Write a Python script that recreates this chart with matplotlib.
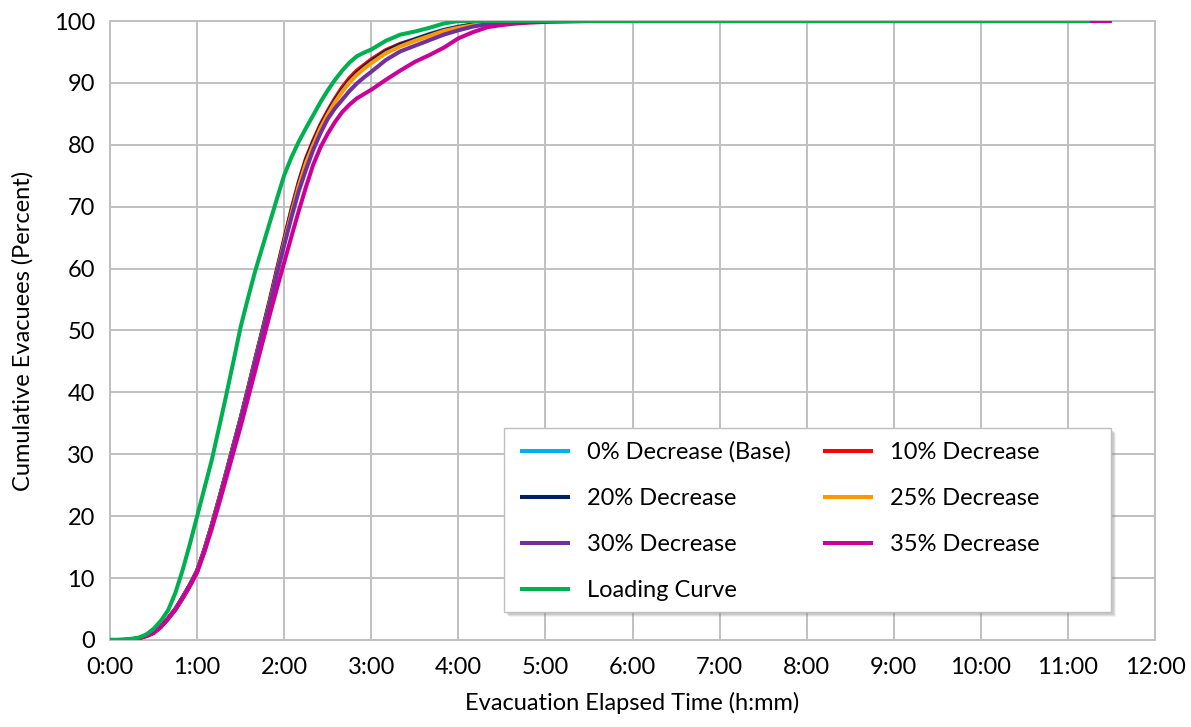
import matplotlib
matplotlib.use("Agg")
import matplotlib.pyplot as plt
from matplotlib.patches import Rectangle
from matplotlib.transforms import offset_copy

# Elapsed time in minutes: 5-minute steps to 3:00, then 10-minute steps to 5:30
minutes = [0, 5, 10, 15, 20, 25, 30, 35, 40, 45, 50, 55, 60, 65, 70, 75, 80, 85,
           90, 95, 100, 105, 110, 115, 120, 125, 130, 135, 140, 145, 150, 155,
           160, 165, 170, 175, 180,
           190, 200, 210, 220, 230, 240, 250, 260, 270, 280, 290, 300, 310, 320, 330]
end_scenarios = 690   # 11:30
end_loading = 675     # 11:15

# Cumulative evacuees (percent) for each scenario
base_0 = [0, 0, 0, 0.1, 0.3, 0.7, 1.2, 2.2, 3.5, 5.0, 6.9, 8.9, 11.2, 14.6, 18.5,
          22.7, 27.0, 31.4, 35.8, 40.5, 45.3, 50.0, 54.7, 59.7, 64.6, 69.4, 73.8,
          77.6, 80.5, 83.1, 85.3, 87.3, 89.0, 90.5, 91.7, 92.7, 93.6,
          95.2, 96.3, 97.1, 97.9, 98.6, 99.1, 99.5, 99.75, 99.9, 99.95, 100, 100,
          100, 100, 100]
dec_10 = [0, 0, 0, 0.1, 0.3, 0.7, 1.2, 2.2, 3.5, 5.0, 6.9, 8.9, 11.2, 14.6, 18.5,
          22.7, 27.0, 31.5, 35.9, 40.6, 45.4, 50.1, 54.9, 59.9, 64.8, 69.6, 74.0,
          77.8, 80.7, 83.3, 85.5, 87.5, 89.3, 90.8, 92.0, 92.9, 93.8,
          95.3, 96.3, 97.0, 97.8, 98.5, 99.0, 99.4, 99.7, 99.9, 99.95, 100, 100,
          100, 100, 100]
dec_20 = [0, 0, 0, 0.1, 0.3, 0.7, 1.2, 2.2, 3.5, 5.0, 6.9, 8.9, 11.2, 14.6, 18.5,
          22.7, 27.0, 31.4, 35.8, 40.4, 45.2, 49.9, 54.6, 59.6, 64.5, 69.3, 73.7,
          77.5, 80.4, 83.0, 85.2, 87.2, 88.9, 90.4, 91.6, 92.6, 93.5,
          95.1, 96.2, 97.0, 97.8, 98.5, 99.0, 99.4, 99.7, 99.9, 99.95, 100, 100,
          100, 100, 100]
dec_25 = [0, 0, 0, 0.1, 0.3, 0.7, 1.2, 2.1, 3.5, 4.9, 6.8, 8.8, 11.1, 14.5, 18.4,
          22.6, 26.9, 31.3, 35.7, 40.3, 45.1, 49.7, 54.4, 59.3, 64.2, 68.9, 73.3,
          77.1, 80.0, 82.7, 84.9, 86.9, 88.6, 90.1, 91.3, 92.3, 93.2,
          94.8, 95.9, 96.8, 97.6, 98.4, 98.9, 99.3, 99.6, 99.85, 99.95, 100, 100,
          100, 100, 100]
dec_30 = [0, 0, 0, 0.1, 0.3, 0.7, 1.2, 2.1, 3.5, 4.9, 6.8, 8.8, 11.1, 14.4, 18.3,
          22.5, 26.8, 31.2, 35.6, 40.2, 45.0, 49.6, 54.2, 59.2, 63.8, 68.3, 72.5,
          76.0, 79.2, 81.9, 84.2, 85.9, 87.3, 88.7, 89.9, 90.9, 91.8,
          93.7, 95.1, 96.0, 96.9, 97.8, 98.5, 99.1, 99.5, 99.75, 99.9, 99.95, 100,
          100, 100, 100]
dec_35 = [0, 0, 0, 0.1, 0.3, 0.6, 1.1, 2.1, 3.4, 4.9, 6.7, 8.7, 10.9, 14.2, 17.9,
          21.9, 26.1, 30.3, 34.5, 39.0, 43.5, 48.0, 52.5, 56.8, 61.0, 65.2, 69.3,
          73.2, 76.8, 79.6, 81.8, 83.7, 85.3, 86.5, 87.5, 88.2, 88.9,
          90.5, 92.0, 93.4, 94.5, 95.7, 97.2, 98.2, 99.0, 99.35, 99.6, 99.75, 99.85,
          99.9, 99.95, 100]
loading = [0, 0, 0.1, 0.2, 0.4, 0.9, 1.8, 3.1, 4.8, 7.6, 11.3, 15.5, 20.0, 24.5,
           29.0, 34.2, 39.5, 45.0, 50.6, 55.2, 59.6, 63.5, 67.4, 71.3, 75.1, 78.0,
           80.5, 82.7, 84.8, 86.9, 88.8, 90.5, 92.0, 93.3, 94.3, 94.9, 95.4,
           96.8, 97.8, 98.3, 98.9, 99.6, 100, 100, 100, 100, 100, 100, 100,
           100, 100, 100]

series = [
    ("0% Decrease (Base)", base_0, "#00B0F0", end_scenarios),
    ("10% Decrease", dec_10, "#FF0000", end_scenarios),
    ("20% Decrease", dec_20, "#002060", end_scenarios),
    ("25% Decrease", dec_25, "#FF9900", end_scenarios),
    ("30% Decrease", dec_30, "#7030A0", end_scenarios),
    ("35% Decrease", dec_35, "#CC0099", end_scenarios),
    ("Loading Curve", loading, "#00B050", end_loading),
]

x_ticks = list(range(0, 721, 60))
x_labels = ["0:00", "1:00", "2:00", "3:00", "4:00", "5:00", "6:00", "7:00",
            "8:00", "9:00", "10:00", "11:00", "12:00"]
y_ticks = list(range(0, 101, 10))

plt.rcParams["font.family"] = ["Lato", "DejaVu Sans"]

fig = plt.figure(figsize=(11.91, 7.27), dpi=100)
ax = fig.add_axes([0.0924, 0.1197, 0.8774, 0.8514])

handles = {}
for label, vals, color, t_end in series:
    xs = minutes + [t_end]
    ys = vals + [vals[-1]]
    (ln,) = ax.plot(xs, ys, color=color, lw=2.9, solid_capstyle="butt",
                    solid_joinstyle="round", label=label, zorder=3)
    handles[label] = ln

ax.set_xlim(0, 720)
ax.set_ylim(0, 100)
ax.set_xticks(x_ticks)
ax.set_xticklabels(x_labels)
ax.set_yticks(y_ticks)
ax.tick_params(axis="both", length=0, labelsize=17, colors="black")
ax.tick_params(axis="x", pad=12)
ax.tick_params(axis="y", pad=11)
ax.grid(True, color="#C0C0C0", lw=1.4, zorder=0)
for sp in ax.spines.values():
    sp.set_color("#C0C0C0")
    sp.set_linewidth(1.4)

ax.set_xlabel("Evacuation Elapsed Time (h:mm)", fontsize=17, labelpad=10)
ax.set_ylabel("Cumulative Evacuees (Percent)", fontsize=17, labelpad=14)

# Legend box with a soft drop shadow
box_x, box_y, box_w, box_h = 0.377, 0.045, 0.581, 0.2975
for off, alpha in [(5, 0.10), (4, 0.16), (3, 0.22)]:
    tr = offset_copy(ax.transAxes, fig=fig, x=off, y=-off, units="dots")
    ax.add_patch(Rectangle((box_x, box_y), box_w, box_h, transform=tr,
                           facecolor="#808080", edgecolor="none", alpha=alpha,
                           zorder=4))
ax.add_patch(Rectangle((box_x, box_y), box_w, box_h, transform=ax.transAxes,
                       facecolor="white", edgecolor="#BFBFBF", lw=1.0, zorder=4.5))

# Legend entries laid out row-wise in two columns
order = ["0% Decrease (Base)", "20% Decrease", "30% Decrease", "Loading Curve",
         "10% Decrease", "25% Decrease", "35% Decrease"]
leg = ax.legend([handles[k] for k in order], order, ncol=2, loc="upper left",
                bbox_to_anchor=(0.392, 0.321), fontsize=17, frameon=False,
                handlelength=2.15, handletextpad=0.7, labelspacing=1.06,
                columnspacing=1.35, borderpad=0, borderaxespad=0)
leg.set_zorder(5)

fig.savefig("out.png", dpi=100)
